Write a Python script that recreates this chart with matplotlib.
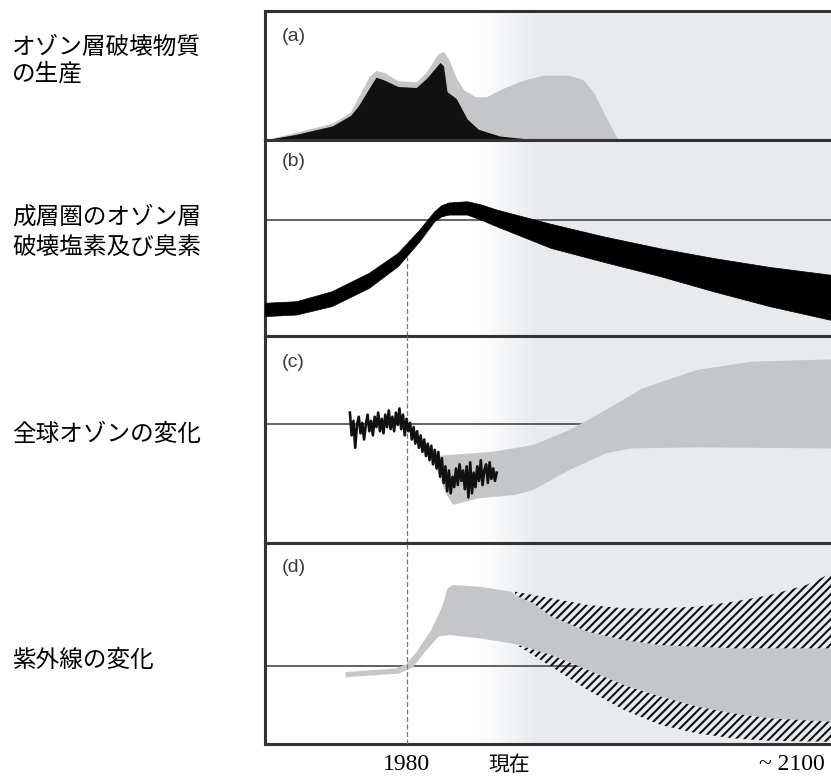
import numpy as np
import matplotlib.pyplot as plt
from matplotlib.colors import to_rgb

plt.rcParams['font.family'] = ['Noto Sans CJK JP', 'DejaVu Sans']
plt.rcParams['hatch.linewidth'] = 1.5

# schematic: x in years, y in % of panel height
X0, X1 = 1940, 2100

# (a) production of ozone depleting substances
a_black_x = [1940.6, 1948.9, 1959.2, 1964.3, 1966.5, 1968.4, 1971.5, 1973.6, 1977.7,
             1982.9, 1985.9, 1989.6, 1990.6, 1991.6, 1994.2, 1997.3, 2000.4, 2006.5, 2015.8]
a_black_y = [0, 4, 10.6, 18.6, 26, 34.5, 48.3, 46.4, 41.1,
             40.3, 47.7, 59.7, 57, 37.1, 31.8, 15.9, 8, 2.7, 0]
a_gray_x = [1940.6, 1959.2, 1964.3, 1967.3, 1969.6, 1971.5, 1974.1, 1977.7, 1982.9, 1985.9,
            1989.0, 1990.6, 1992.3, 1994.2, 1996.3, 1999.6, 2002.7, 2006.5, 2012.6, 2018.8,
            2026.0, 2030.1, 2033.2, 2036.3, 2039.9]
a_gray_y = [0, 12.7, 21.2, 37.1, 49, 53.6, 51.7, 45.6, 44.6, 53,
            66.3, 68.4, 61, 47.7, 38.5, 33.2, 33.2, 38.5, 45.6, 49.9,
            49.9, 46.4, 35.8, 18.6, 0]

# (b) stratospheric chlorine + bromine (band)
b_x = [1940, 1949, 1959, 1969.5, 1977.7, 1983.8, 1988, 1990, 1992.1, 1997.3, 2001.3,
       2005.5, 2020.9, 2036, 2051.8, 2067, 2082.7, 2100]
b_up = [16.7, 17.5, 22.6, 32, 42.2, 54.1, 63.4, 66.5, 67.9, 68.5, 66.8,
        64.3, 57, 50.5, 44.5, 39.5, 35, 31]
b_lo = [9.9, 10.7, 15, 24.3, 35.4, 48.1, 58.3, 60.8, 61.7, 61.7, 59,
        55.8, 44.7, 37.5, 30.3, 22.5, 15, 8]
b_ref = 59.2

# (c) global ozone: observations + projection band
c_obs_x = np.arange(1964, 2005.6, 0.5)
c_obs_y = [63, 52, 59, 46, 57, 61, 53, 58, 50, 57, 62, 54,
           59, 52, 61, 56, 63, 54, 60, 53, 62, 56, 64, 55,
           61, 54, 63, 57, 65, 55, 62, 52, 60, 54, 58, 50,
           56, 48, 54, 46, 52, 44, 50, 42, 48, 40, 47, 38,
           45, 36, 44, 32, 41, 29, 37, 25, 35, 24, 32, 27,
           36, 28, 38, 30, 35, 26, 37, 22, 39, 24, 34, 27,
           37, 30, 40, 28, 35, 38, 29, 39, 31, 36, 30, 34]
c_band_up_x = [1988, 2004.5, 2015.8, 2026.1, 2036.4, 2046.7, 2062.1, 2077.6, 2100]
c_band_up = [42, 44.1, 47.3, 54.6, 64.3, 74.7, 83.6, 87.6, 88.7]
c_band_lo_x = [1988, 1991.1, 1993.2, 2000.4, 2010.7, 2015.8, 2026.1, 2036.4, 2043.6, 2062.1, 2100]
c_band_lo = [38, 24, 18.4, 21.6, 23.2, 25.6, 35.3, 43.3, 45.7, 46.2, 45.7]
c_ref = 57.5

# (d) UV change
d_up_x = [1962.8, 1976.7, 1979.8, 1982.9, 1987.0, 1990.1, 1991.6, 1993.2, 2000.4, 2009.6,
          2010.7, 2015.8, 2020.9, 2031.2, 2041.5, 2051.8, 2072.4, 2100]
d_up = [35.8, 37.5, 39.5, 45.9, 56.7, 68.3, 77.4, 79.1, 78.3, 75.8,
        74.1, 70.0, 63.4, 55.9, 51.7, 49.2, 47.6, 47.6]
d_lo_x = [1962.8, 1977.7, 1981.8, 1984.9, 1989.0, 1992.1, 2000.4, 2008.6, 2010.7,
          2020.9, 2031.2, 2041.5, 2051.8, 2062.1, 2072.4, 2082.7, 2100]
d_lo = [33.2, 35.0, 38.0, 45.1, 53.4, 54.2, 52.6, 50.4, 49.7,
        44.3, 36.8, 29.3, 23.6, 18.6, 15.2, 12.8, 11.1]
d_hatch_top_x = [2010.7, 2020.9, 2031.2, 2041.5, 2051.8, 2062.1, 2072.4, 2082.7, 2093.0, 2100]
d_hatch_top = [75.8, 72.5, 69.2, 67.5, 67.5, 68.3, 70.8, 74.1, 79.1, 84.9]
d_hatch_bot_x = [2012.7, 2020.9, 2031.2, 2041.5, 2051.8, 2062.1, 2072.4, 2082.7, 2100]
d_hatch_bot = [47.6, 38.5, 26.9, 16.9, 9.5, 5.3, 2.8, 1.6, 1.1]
d_ref = 38.8

row_labels = [['オゾン層破壊物質', 'の生産'], ['成層圏のオゾン層', '破壊塩素及び臭素'],
              ['全球オゾンの変化'], ['紫外線の変化']]
row_label_y = [[47, 74], [217, 247], [434], [660]]
panel_tags = ['(a)', '(b)', '(c)', '(d)']
tick_years = [1980, 2009, 2089]
tick_text = ['1980', '現在', '~ 2100']

W, H = 831, 778
fig = plt.figure(figsize=(W / 100, H / 100), dpi=100)

edges = [11, 140, 336, 543, 744]
tag_y = [0.80, 0.89, 0.87, 0.88]
gray = '#c4c6c8'
frame = '#333333'

xs = np.linspace(X0, X1, 500)
t = np.clip((xs - 2000) / 17, 0, 1)[:, None]
grad = (1 - t) * np.ones(3) + t * np.array(to_rgb('#e8ebee'))

axes = []
for i in range(4):
    top, bot = edges[i], edges[i + 1]
    ax = fig.add_axes([265 / W, 1 - bot / H, (W - 265) / W, (bot - top) / H])
    ax.imshow(grad[None, :, :], extent=[X0, X1, 0, 100], aspect='auto', zorder=0)
    ax.set_xlim(X0, X1)
    ax.set_ylim(0, 100)
    ax.set_xticks([])
    ax.set_yticks([])
    for s in ['left', 'top', 'bottom']:
        ax.spines[s].set_color(frame)
        ax.spines[s].set_linewidth(2.2)
    ax.spines['right'].set_visible(False)
    ax.text(0.03, tag_y[i], panel_tags[i], transform=ax.transAxes, family='Liberation Sans',
            fontsize=14, color='#3c3c3c', va='center', ha='left')
    axes.append(ax)

ax_a, ax_b, ax_c, ax_d = axes

# (a)
ax_a.fill(a_gray_x, a_gray_y, color=gray, lw=0, zorder=2)
ax_a.fill(a_black_x, a_black_y, color='#111111', lw=0, zorder=3)

# (b)
ax_b.axhline(b_ref, color='#555555', lw=1.3, zorder=1)
ax_b.fill(np.r_[b_x, b_x[::-1]], np.r_[b_up, b_lo[::-1]], color='black', lw=0.5, zorder=3)
ax_b.axvline(1980, ymin=0, ymax=np.interp(1980, b_x, b_lo) / 100, color='#777777',
             lw=0.9, ls=(0, (4, 2)), zorder=2)

# (c)
ax_c.axhline(c_ref, color='#555555', lw=1.3, zorder=1)
ax_c.fill(np.r_[c_band_up_x, c_band_lo_x[::-1]], np.r_[c_band_up, c_band_lo[::-1]],
          color=gray, lw=0, zorder=2)
ax_c.plot(c_obs_x, c_obs_y, color='#111111', lw=1.9, zorder=4)
ax_c.axvline(1980, color='#777777', lw=0.9, ls=(0, (4, 2)), zorder=3)

# (d)
ax_d.axhline(d_ref, color='#555555', lw=1.3, zorder=1)
ax_d.fill(np.r_[d_up_x, d_lo_x[::-1]], np.r_[d_up, d_lo[::-1]], color=gray, lw=0, zorder=2)
up_hx = np.r_[d_hatch_top_x, d_up_x[10:][::-1]]
up_hy = np.r_[d_hatch_top, d_up[10:][::-1]]
ax_d.fill(up_hx, up_hy, facecolor='none', edgecolor='#111111', hatch='////', lw=0, zorder=3)
lo_hx = np.r_[d_lo_x[8:], d_hatch_bot_x[::-1]]
lo_hy = np.r_[d_lo[8:], d_hatch_bot[::-1]]
ax_d.fill(lo_hx, lo_hy, facecolor='none', edgecolor='#111111', hatch='////', lw=0, zorder=3)
ax_d.axvline(1980, color='#777777', lw=0.9, ls=(0, (4, 2)), zorder=3)

ax_d.set_xticks(tick_years)
ax_d.set_xticklabels(tick_text)
ax_d.tick_params(axis='x', length=0, pad=7, labelsize=17)
for lab in ax_d.get_xticklabels():
    if lab.get_text() == '現在':
        lab.set_fontfamily(['Noto Sans CJK JP'])
        lab.set_fontsize(15)
    else:
        lab.set_fontfamily(['Liberation Serif'])

for lines, ys in zip(row_labels, row_label_y):
    for txt, y in zip(lines, ys):
        fig.text(12 / W, 1 - y / H, txt, fontsize=17, va='center', ha='left')

fig.savefig('out.png', dpi=100)
